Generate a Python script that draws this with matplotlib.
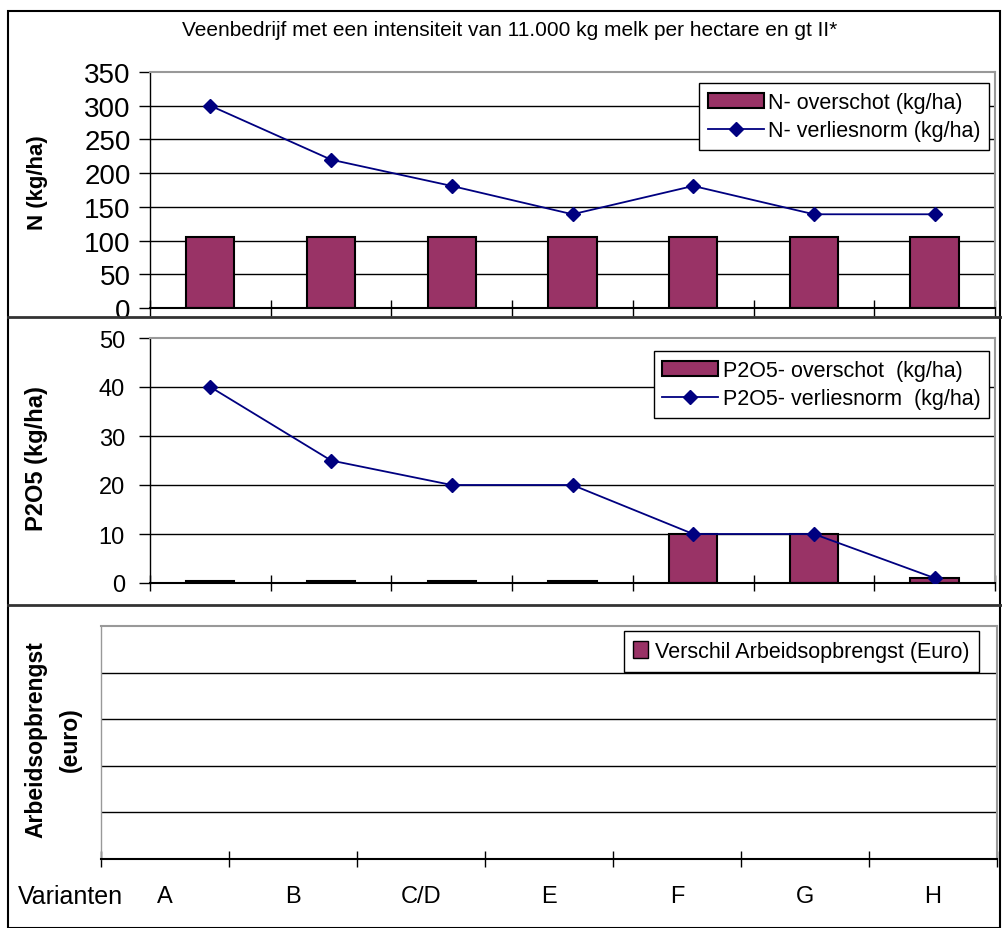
import matplotlib
matplotlib.use("Agg")
import matplotlib.pyplot as plt
from matplotlib.lines import Line2D
from matplotlib.patches import Patch, Rectangle

plt.rcParams["font.family"] = ["Liberation Sans", "DejaVu Sans"]

# Data
varianten = ["A", "B", "C/D", "E", "F", "G", "H"]
n_overschot = [106, 106, 106, 106, 106, 106, 106]
n_verliesnorm = [300, 220, 181, 139, 181, 139, 139]
p_overschot = [0.4, 0.4, 0.4, 0.4, 10, 10, 1]
p_verliesnorm = [40, 25, 20, 20, 10, 10, 1]
n_ticks = [0, 50, 100, 150, 200, 250, 300, 350]
p_ticks = [0, 10, 20, 30, 40, 50]

BAR = "#993366"
LINE = "#000080"
W, H = 1002, 929


def px_axes(fig, left, top, right, bottom):
    return fig.add_axes([left / W, (H - bottom) / H, (right - left) / W, (bottom - top) / H])


def style_axes(ax, ymax, ticks, labelsize, pad=4, labels=True):
    x = range(len(varianten))
    ax.set_xlim(-0.5, len(varianten) - 0.5)
    ax.set_ylim(0, ymax)
    ax.set_xticks([i - 0.5 for i in range(len(varianten) + 1)])
    ax.set_xticklabels([])
    ax.tick_params(axis="x", direction="inout", length=12, width=1)
    ax.set_yticks(ticks)
    if labels:
        ax.tick_params(axis="y", direction="out", length=8, width=1, labelsize=labelsize, pad=pad)
    else:
        ax.tick_params(axis="y", length=0, labelleft=False)
    for t in ticks[1:-1]:
        ax.axhline(t, color="black", lw=1, zorder=0)
    for s in ["top", "right"]:
        ax.spines[s].set_color("#999999")
        ax.spines[s].set_linewidth(1.5)
    ax.spines["left"].set_linewidth(1)
    ax.spines["bottom"].set_linewidth(1.5)
    return x


def legend(ax, handles, anchor, **kw):
    ax.legend(handles=handles, loc="upper right", bbox_to_anchor=anchor, fancybox=False,
              framealpha=1, edgecolor="black", fontsize=15.5, borderaxespad=0, **kw)


fig = plt.figure(figsize=(W / 100, H / 100), dpi=100)

# frame and separators
fig.add_artist(Rectangle((8 / W, 0), (W - 10) / W, (H - 12) / H, transform=fig.transFigure,
                         fill=False, edgecolor="black", lw=1.5))
for y in [318, 606]:
    fig.add_artist(Line2D([8 / W, 1], [(H - y) / H] * 2, transform=fig.transFigure,
                          color="#333333", lw=2))

fig.text(510 / W, (H - 30) / H, "Veenbedrijf met een intensiteit van 11.000 kg melk per hectare en gt II*",
         ha="center", va="center", fontsize=15)

# Panel 1: N
ax1 = px_axes(fig, 150, 73, 995, 309)
x = style_axes(ax1, 350, n_ticks, 20, pad=6)
b = ax1.bar(x, n_overschot, width=0.4, color=BAR, edgecolor="black", lw=1.5, zorder=2,
            label="N- overschot (kg/ha)")
l, = ax1.plot(x, n_verliesnorm, color=LINE, lw=1.3, marker="D", markersize=7, zorder=3,
              label="N- verliesnorm (kg/ha)")
legend(ax1, [b, l], (0.993, 0.953), borderpad=0.4, labelspacing=0.35, handlelength=2.6,
       handletextpad=0.2)
fig.text(37 / W, (H - 183) / H, "N (kg/ha)", rotation=90, ha="center", va="center",
         fontsize=16, fontweight="bold")

# Panel 2: P2O5
ax2 = px_axes(fig, 150, 339, 995, 584)
x = style_axes(ax2, 50, p_ticks, 17, pad=10)
b = ax2.bar(x, p_overschot, width=0.4, color=BAR, edgecolor="black", lw=1.5, zorder=2,
            label="P2O5- overschot  (kg/ha)")
l, = ax2.plot(x, p_verliesnorm, color=LINE, lw=1.3, marker="D", markersize=7, zorder=3,
              label="P2O5- verliesnorm  (kg/ha)")
legend(ax2, [b, l], (0.993, 0.947), borderpad=0.4, labelspacing=0.35, handlelength=2.6,
       handletextpad=0.2)
fig.text(37 / W, (H - 459) / H, "P2O5 (kg/ha)", rotation=90, ha="center", va="center",
         fontsize=17, fontweight="bold")

# Panel 3: Arbeidsopbrengst (no data)
ax3 = px_axes(fig, 101, 627, 997, 860)
style_axes(ax3, 5, [0, 1, 2, 3, 4, 5], 14, labels=False)
ax3.spines["left"].set_color("#999999")
ax3.set_xticks(range(len(varianten)), minor=True)
ax3.set_xticklabels(varianten, minor=True, fontsize=17)
ax3.tick_params(axis="x", which="minor", length=0, pad=19)
legend(ax3, [Patch(facecolor=BAR, edgecolor="black", label="Verschil Arbeidsopbrengst (Euro)")],
       (0.98, 0.979), handlelength=0.7, handleheight=0.9, handletextpad=0.3, borderpad=0.45)
fig.text(70 / W, (H - 897) / H, "Varianten", ha="center", va="center", fontsize=18)
fig.text(53 / W, (H - 740) / H, "Arbeidsopbrengst\n(euro)", rotation=90, ha="center", va="center",
         fontsize=16.5, fontweight="bold", linespacing=1.6, multialignment="center")

fig.savefig("out.png", dpi=100)
